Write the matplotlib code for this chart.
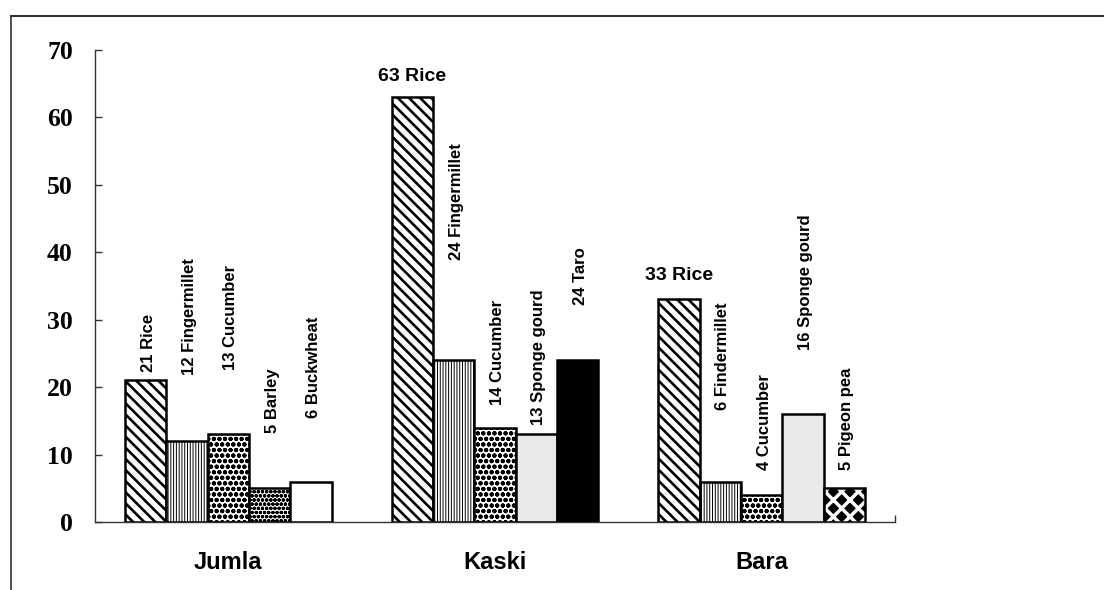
import matplotlib
matplotlib.use("Agg")
import matplotlib.pyplot as plt
from matplotlib.lines import Line2D

# ---------------- data ----------------
sites = ["Jumla", "Kaski", "Bara"]
jumla_crops = ["Rice", "Fingermillet", "Cucumber", "Barley", "Buckwheat"]
jumla_values = [21, 12, 13, 5, 6]
kaski_crops = ["Rice", "Fingermillet", "Cucumber", "Sponge gourd", "Taro"]
kaski_values = [63, 24, 14, 13, 24]
bara_crops = ["Rice", "Findermillet", "Cucumber", "Sponge gourd", "Pigeon pea"]
bara_values = [33, 6, 4, 16, 5]
y_ticks = [0, 10, 20, 30, 40, 50, 60, 70]

# ---------------- layout / style ----------------
# label anchor (data units): bottom of rotated label, or centre of horizontal label
label_anchor = [
    [22.2, 21.8, 22.5, 13.2, 15.4],
    [66.0, 38.9, 17.3, 14.4, 32.2],
    [36.6, 16.6, 7.7, 25.5, 7.7],
]
# which labels are written horizontally (group, bar)
horizontal_labels = {(1, 0), (2, 0)}

styles = {
    "Rice": dict(fc="white", hatch="\\\\\\", hlw=1.9),
    "Fingermillet": dict(fc="white", hatch="||||||", hlw=0.7),
    "Findermillet": dict(fc="white", hatch="||||||", hlw=0.7),
    "Cucumber": dict(fc="white", hatch="ooo", hlw=1.4),
    "Barley": dict(fc="white", hatch="oooo", hlw=1.2),
    "Buckwheat": dict(fc="white", hatch=None, hlw=1.0),
    "Sponge gourd": dict(fc="#e9e9e9", hatch=None, hlw=1.0),
    "Taro": dict(fc="black", hatch=None, hlw=1.0),
    "Pigeon pea": dict(fc="black", hatch="xx", hlw=2.5, inverse=True),
}

groups = [
    (jumla_crops, jumla_values),
    (kaski_crops, kaski_values),
    (bara_crops, bara_values),
]

fig = plt.figure(figsize=(11.04, 5.90), dpi=100)
ax = fig.add_axes([95 / 1104, 1 - 522 / 590, 800 / 1104, 472 / 590])

w = 0.155
sans = ["Liberation Sans", "DejaVu Sans"]
serif = ["Liberation Serif", "DejaVu Serif"]

for gi, (crops, vals) in enumerate(groups):
    for bj, (crop, val) in enumerate(zip(crops, vals)):
        x = gi + (bj - 2) * w
        st = styles[crop]
        if st.get("inverse"):
            ax.bar(x, val, w, color="black", edgecolor="black", linewidth=0, zorder=2)
            with plt.rc_context({"hatch.linewidth": st["hlw"]}):
                ax.bar(x, val, w, facecolor="none", edgecolor="white",
                       hatch=st["hatch"], linewidth=0, zorder=3)
            ax.bar(x, val, w, facecolor="none", edgecolor="black",
                   linewidth=1.8, zorder=4)
        else:
            with plt.rc_context({"hatch.linewidth": st["hlw"]}):
                ax.bar(x, val, w, color=st["fc"], edgecolor="black",
                       hatch=st["hatch"], linewidth=1.8, zorder=2)
        text = f"{val} {crop}"
        anc = label_anchor[gi][bj]
        if (gi, bj) in horizontal_labels:
            ax.text(x, anc, text, ha="center", va="center", fontsize=14,
                    fontweight="bold", family=sans)
        else:
            ax.text(x + 0.01, anc, text, ha="center", va="bottom", rotation=90,
                    fontsize=12, fontweight="bold", family=sans)

ax.set_xlim(-0.5, 2.5)
ax.set_ylim(0, 70)
ax.set_yticks(y_ticks)
ax.set_yticklabels([str(t) for t in y_ticks], fontsize=18.5, fontweight="bold",
                   family=serif)
ax.tick_params(axis="y", direction="in", length=5, width=1, color="#333333", pad=16)
ax.set_xticks([0, 1, 2])
ax.set_xticklabels(sites, fontsize=17, fontweight="bold", family=sans)
ax.tick_params(axis="x", length=0, pad=21)
ax.set_xticks([2.5], minor=True)
ax.tick_params(axis="x", which="minor", direction="in", length=5, width=1, color="#333333")

for s in ["top", "right"]:
    ax.spines[s].set_visible(False)
for s in ["left", "bottom"]:
    ax.spines[s].set_color("#333333")
    ax.spines[s].set_linewidth(1)

# figure border (top and left edges)
by = 1 - 16 / 590
bx = 11 / 1104
fig.add_artist(Line2D([bx, 1.0], [by, by], color="#333333", lw=1.5, transform=fig.transFigure))
fig.add_artist(Line2D([bx, bx], [0, by], color="#333333", lw=1.2, transform=fig.transFigure))

fig.savefig("out.png", dpi=100)
